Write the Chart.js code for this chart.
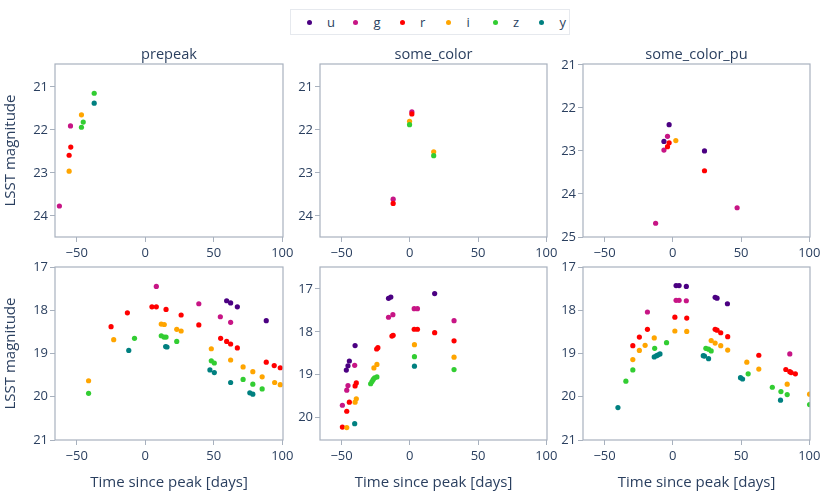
<!DOCTYPE html>
<html>
<head>
<meta charset="utf-8">
<script src="https://cdn.jsdelivr.net/npm/chart.js@4.4.1/dist/chart.umd.min.js"></script>
<style>
  body { margin:0; background:#fff; width:831px; height:498px; position:relative; overflow:hidden; font-family:'Open Sans', sans-serif; }
  canvas { position:absolute; }
  #legend { position:absolute; left:290px; top:9px; width:280px; height:26px; border:1px solid #e6e9ee; box-sizing:border-box; background:#fff; }
  .lab { position:absolute; top:0; height:24px; line-height:24px; font-size:13px; color:#2a3f5f; }
  .dot { position:absolute; width:5px; height:5px; border-radius:50%; top:10px; }
  .ptitle { position:absolute; height:20px; line-height:20px; font-size:14.6px; color:#2a3f5f; text-align:center; white-space:nowrap; }
</style>
</head>
<body>
<div id="legend"></div>
<script>
const bands = ['u', 'g', 'r', 'i', 'z', 'y'];
const bandColors = ['#4b0082', '#c71585', '#ff0000', '#ffa500', '#32cd32', '#008080'];
const panelTitles = ['prepeak', 'some_color', 'some_color_pu'];
const xTicks = [-50, 0, 50, 100];
const yTicksTop = [21, 22, 23, 24];
const yTicksTopPu = [21, 22, 23, 24, 25];
const yTicksBottom = [17, 18, 19, 20, 21];
const yTicksBottomColor = [17, 18, 19, 20];

// [band, days since peak, magnitude]
const prepeakTop = [
  ['g', -62.6, 23.77], ['g', -54.5, 21.91],
  ['r', -55.5, 22.59], ['r', -54.3, 22.40],
  ['i', -55.5, 22.96], ['i', -46.5, 21.65],
  ['z', -46.5, 21.94], ['z', -45.2, 21.82], ['z', -37.2, 21.15],
  ['y', -37.2, 21.38]
];
const colorTop = [
  ['g', 1.5, 21.58], ['g', -12.2, 23.61],
  ['r', 1.5, 21.63], ['r', -12.2, 23.71],
  ['i', -0.2, 21.80], ['i', 17.5, 22.51],
  ['z', -0.2, 21.88], ['z', 17.5, 22.60]
];
const colorPuTop = [
  ['u', -2.7, 22.39], ['u', -6.5, 22.78], ['u', 23.2, 23.00],
  ['g', -3.9, 22.66], ['g', -6.5, 22.98], ['g', 47.1, 24.32], ['g', -12.6, 24.68],
  ['r', -2.7, 22.81], ['r', -3.9, 22.90], ['r', 23.2, 23.46],
  ['i', 2.2, 22.76]
];
const prepeakBottom = [
  ['u', 59.4, 17.78], ['u', 62.3, 17.83], ['u', 67.2, 17.92], ['u', 88.3, 18.24],
  ['g', 8.1, 17.45], ['g', 39.1, 17.85], ['g', 54.8, 18.15], ['g', 62.3, 18.28],
  ['r', -24.9, 18.38], ['r', -13.0, 18.06], ['r', 4.9, 17.92], ['r', 8.1, 17.92], ['r', 15.2, 17.98],
  ['r', 26.2, 18.11], ['r', 39.1, 18.34], ['r', 55.0, 18.65], ['r', 59.4, 18.72], ['r', 62.3, 18.78],
  ['r', 67.2, 18.87], ['r', 88.3, 19.20], ['r', 94.1, 19.28], ['r', 98.5, 19.33],
  ['i', -41.3, 19.63], ['i', -23.0, 18.68], ['i', 11.7, 18.32], ['i', 13.9, 18.33], ['i', 23.0, 18.44],
  ['i', 26.2, 18.48], ['i', 48.2, 18.89], ['i', 62.3, 19.15], ['i', 71.4, 19.31], ['i', 78.5, 19.42],
  ['i', 85.3, 19.54], ['i', 94.4, 19.67], ['i', 98.5, 19.72],
  ['z', -41.3, 19.92], ['z', -7.8, 18.65], ['z', 11.7, 18.59], ['z', 13.7, 18.62], ['z', 15.2, 18.62],
  ['z', 23.0, 18.72], ['z', 48.2, 19.17], ['z', 50.4, 19.22], ['z', 71.4, 19.60], ['z', 78.5, 19.71],
  ['z', 85.3, 19.82],
  ['y', -12.0, 18.93], ['y', 14.9, 18.84], ['y', 15.9, 18.85], ['y', 47.2, 19.38], ['y', 50.4, 19.44],
  ['y', 62.3, 19.67], ['y', 76.3, 19.91], ['y', 78.5, 19.94]
];
const colorBottom = [
  ['u', -40.1, 18.32], ['u', -44.3, 18.68], ['u', -45.3, 18.79], ['u', -46.5, 18.89],
  ['u', -15.6, 17.22], ['u', -13.9, 17.19], ['u', 18.2, 17.11],
  ['g', -49.4, 19.71], ['g', -46.2, 19.36], ['g', -45.3, 19.25], ['g', -40.4, 18.78],
  ['g', -15.6, 17.66], ['g', -12.4, 17.60], ['g', 3.2, 17.46], ['g', 5.6, 17.46], ['g', 32.4, 17.74],
  ['r', -49.4, 20.22], ['r', -46.2, 19.85], ['r', -44.3, 19.64], ['r', -40.1, 19.26], ['r', -39.2, 19.19],
  ['r', -24.3, 18.40], ['r', -23.4, 18.37], ['r', -13.1, 18.10], ['r', -12.2, 18.08],
  ['r', 3.2, 17.94], ['r', 5.6, 17.94], ['r', 18.2, 18.02], ['r', 32.4, 18.21],
  ['i', -46.2, 20.23], ['i', -40.1, 19.64], ['i', -39.2, 19.56], ['i', -26.3, 18.84], ['i', -24.1, 18.76],
  ['i', 3.4, 18.30], ['i', 32.4, 18.59],
  ['z', -28.7, 19.21], ['z', -27.7, 19.16], ['z', -26.8, 19.11], ['z', -25.8, 19.07], ['z', -24.1, 19.05],
  ['z', 3.4, 18.58], ['z', 32.4, 18.88],
  ['y', -40.4, 20.14], ['y', 3.4, 18.80]
];
const colorPuBottom = [
  ['u', 2.4, 17.43], ['u', 4.6, 17.43], ['u', 9.9, 17.45], ['u', 31.0, 17.70], ['u', 32.4, 17.72], ['u', 40.0, 17.85],
  ['g', -18.6, 18.04], ['g', 2.4, 17.77], ['g', 4.6, 17.77], ['g', 9.9, 17.78], ['g', 85.7, 19.01],
  ['r', -29.3, 18.82], ['r', -24.5, 18.62], ['r', -18.6, 18.44], ['r', 1.5, 18.16], ['r', 10.2, 18.18],
  ['r', 31.0, 18.44], ['r', 32.4, 18.46], ['r', 35.1, 18.52], ['r', 40.2, 18.61], ['r', 63.0, 19.04],
  ['r', 82.8, 19.37], ['r', 85.7, 19.42], ['r', 86.7, 19.44], ['r', 89.8, 19.47],
  ['i', -29.3, 19.14], ['i', -24.5, 18.93], ['i', -20.3, 18.81], ['i', -13.6, 18.64], ['i', 1.5, 18.48],
  ['i', 10.2, 18.49], ['i', 28.1, 18.70], ['i', 31.0, 18.76], ['i', 35.1, 18.82], ['i', 40.2, 18.92],
  ['i', 54.2, 19.20], ['i', 63.0, 19.36], ['i', 83.8, 19.71], ['i', 100.2, 19.94],
  ['z', -34.4, 19.64], ['z', -29.3, 19.38], ['z', -13.3, 18.88], ['z', -4.6, 18.75], ['z', 24.2, 18.88],
  ['z', 26.2, 18.90], ['z', 28.1, 18.94], ['z', 55.2, 19.47], ['z', 72.9, 19.78], ['z', 79.2, 19.88],
  ['z', 83.8, 19.95], ['z', 100.2, 20.18],
  ['y', -40.2, 20.25], ['y', -13.6, 19.08], ['y', -11.9, 19.05], ['y', -10.7, 19.03], ['y', -9.4, 19.01],
  ['y', 22.3, 19.05], ['y', 23.2, 19.06], ['y', 26.2, 19.12], ['y', 49.6, 19.56], ['y', 51.1, 19.59],
  ['y', 78.9, 20.08]
];

const textColor = '#2a3f5f';
const lineColor = '#a8b1be';
const colL = [55, 320, 583];
const colR = [283, 547, 810];
const rowT = [64, 267];
const rowB = [237, 440];

const panels = [
  { pts: prepeakTop, row: 0, col: 0, yMin: 20.47, yMax: 24.49, yTicks: yTicksTop },
  { pts: colorTop, row: 0, col: 1, yMin: 20.47, yMax: 24.49, yTicks: yTicksTop },
  { pts: colorPuTop, row: 0, col: 2, yMin: 20.98, yMax: 25.0, yTicks: yTicksTopPu },
  { pts: prepeakBottom, row: 1, col: 0, yMin: 17, yMax: 21, yTicks: yTicksBottom },
  { pts: colorBottom, row: 1, col: 1, yMin: 16.49, yMax: 20.52, yTicks: yTicksBottomColor },
  { pts: colorPuBottom, row: 1, col: 2, yMin: 17, yMax: 21, yTicks: yTicksBottom }
];

// box round each plot area
const frame = {
  id: 'frame',
  afterDatasetsDraw(chart) {
    const { ctx, chartArea: a } = chart;
    ctx.save();
    ctx.strokeStyle = lineColor;
    ctx.lineWidth = 1.2;
    ctx.strokeRect(a.left, a.top, a.right - a.left, a.bottom - a.top);
    ctx.restore();
  }
};

const fmt = v => v < 0 ? '\u2212' + Math.abs(v) : String(v);

function makePanel(p) {
  const yw = p.col === 0 ? 55 : 40;
  const padR = 15;
  const L = colL[p.col], R = colR[p.col], T = rowT[p.row], B = rowB[p.row];
  const top = T - 10;
  const xh = p.row === 0 ? 25 : 58;

  const cv = document.createElement('canvas');
  cv.width = yw + (R - L) + padR;
  cv.height = (B - top) + xh;
  cv.style.left = (L - yw) + 'px';
  cv.style.top = top + 'px';
  document.body.appendChild(cv);

  if (p.row === 0) {
    const t = document.createElement('div');
    t.className = 'ptitle';
    t.textContent = panelTitles[p.col];
    t.style.left = L + 'px';
    t.style.width = (R - L) + 'px';
    t.style.top = '43px';
    document.body.appendChild(t);
  }

  new Chart(cv.getContext('2d'), {
    type: 'scatter',
    data: {
      datasets: bands.map((b, i) => ({
        label: b,
        data: p.pts.filter(d => d[0] === b).map(d => ({ x: d[1], y: d[2] })),
        backgroundColor: bandColors[i],
        pointRadius: 2.6,
        pointBorderWidth: 0,
        order: bands.length - i
      }))
    },
    options: {
      responsive: false,
      animation: false,
      layout: { padding: { top: 10, right: padR, left: 0, bottom: 0 } },
      plugins: {
        legend: { display: false },
        tooltip: { enabled: false }
      },
      scales: {
        x: {
          type: 'linear',
          min: -65.8,
          max: 100.5,
          afterBuildTicks: s => { s.ticks = xTicks.map(v => ({ value: v })); },
          afterFit: s => { s.height = xh; s.paddingLeft = 0; s.paddingRight = 0; },
          grid: { display: true, drawOnChartArea: false, drawTicks: true, tickLength: 5, color: lineColor },
          border: { display: false },
          ticks: { color: textColor, font: { family: 'Open Sans', size: 13 }, padding: 3, maxRotation: 0, callback: fmt },
          title: {
            display: p.row === 1,
            text: 'Time since peak [days]',
            color: textColor,
            font: { family: 'Open Sans', size: 15 },
            padding: { top: 0, bottom: 6 }
          }
        },
        y: {
          type: 'linear',
          reverse: true,
          min: p.yMin,
          max: p.yMax,
          afterBuildTicks: s => { s.ticks = p.yTicks.map(v => ({ value: v })); },
          afterFit: s => { s.width = yw; s.paddingTop = 0; s.paddingBottom = 0; },
          grid: { display: true, drawOnChartArea: false, drawTicks: true, tickLength: 5, color: lineColor },
          border: { display: false },
          ticks: { color: textColor, font: { family: 'Open Sans', size: 13 }, padding: 2, callback: fmt },
          title: {
            display: p.col === 0,
            text: 'LSST magnitude',
            color: textColor,
            font: { family: 'Open Sans', size: 15 },
            padding: { top: 2, bottom: 0 }
          }
        }
      }
    },
    plugins: [frame]
  });
}

panels.forEach(makePanel);

// legend row
const legend = document.getElementById('legend');
bands.forEach((b, i) => {
  const dot = document.createElement('div');
  dot.className = 'dot';
  dot.style.background = bandColors[i];
  dot.style.left = (309 + i * 46.5 - 2.5 - 291) + 'px';
  legend.appendChild(dot);
  const lab = document.createElement('div');
  lab.className = 'lab';
  lab.textContent = b;
  lab.style.left = (327 + i * 46.5 - 291) + 'px';
  legend.appendChild(lab);
});
</script>
</body>
</html>
